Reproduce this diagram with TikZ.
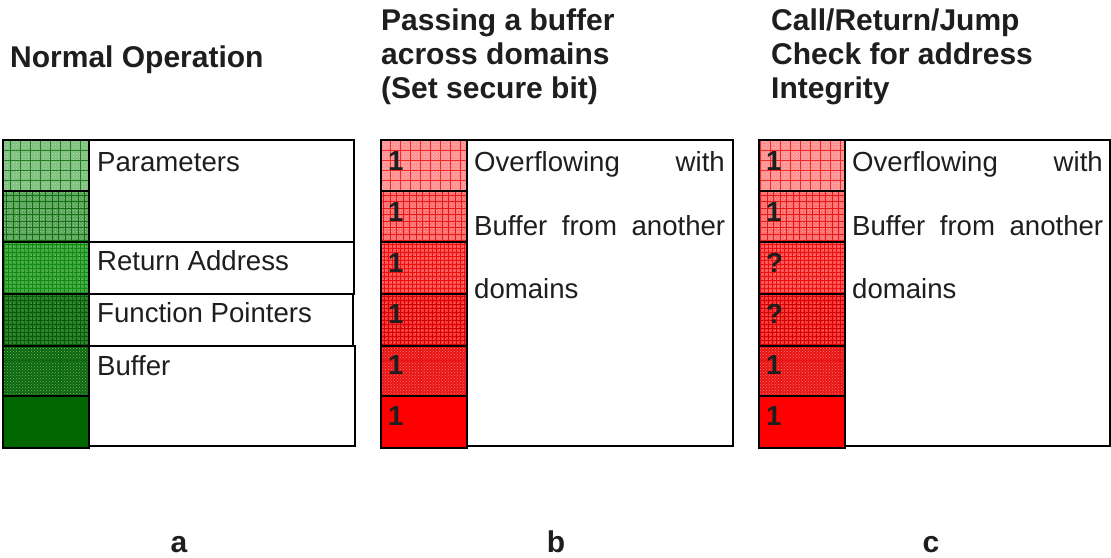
\documentclass[tikz,border=0pt]{standalone}
\usepackage{fontspec}
\setmainfont{Liberation Sans}
\usetikzlibrary{patterns}

\definecolor{ink}{RGB}{30,30,30}
% green stack (normal operation)
\definecolor{gbase1}{RGB}{128,192,128}\definecolor{gdot1}{RGB}{175,218,175}\definecolor{ggrid1}{RGB}{35,125,35}
\definecolor{gbase2}{RGB}{92,166,92}\definecolor{gdot2}{RGB}{150,205,150}\definecolor{ggrid2}{RGB}{20,110,20}
\definecolor{gbase3}{RGB}{60,165,60}\definecolor{gdot3}{RGB}{125,200,125}\definecolor{ggrid3}{RGB}{20,140,20}
\definecolor{gbase4}{RGB}{35,125,35}\definecolor{gdot4}{RGB}{95,165,95}\definecolor{ggrid4}{RGB}{10,90,10}
\definecolor{gbase5}{RGB}{12,102,12}\definecolor{gdot5}{RGB}{110,180,110}\definecolor{ggrid5}{RGB}{12,102,12}
\definecolor{gbase6}{RGB}{0,102,0}\definecolor{gdot6}{RGB}{0,102,0}\definecolor{ggrid6}{RGB}{0,102,0}
% red stack (secure bit set)
\definecolor{rbase1}{RGB}{255,145,145}\definecolor{rdot1}{RGB}{255,190,190}\definecolor{rgrid1}{RGB}{240,40,40}
\definecolor{rbase2}{RGB}{255,108,108}\definecolor{rdot2}{RGB}{255,170,170}\definecolor{rgrid2}{RGB}{230,25,25}
\definecolor{rbase3}{RGB}{255,78,78}\definecolor{rdot3}{RGB}{255,148,148}\definecolor{rgrid3}{RGB}{235,15,15}
\definecolor{rbase4}{RGB}{250,46,46}\definecolor{rdot4}{RGB}{255,128,128}\definecolor{rgrid4}{RGB}{210,0,0}
\definecolor{rbase5}{RGB}{232,20,20}\definecolor{rdot5}{RGB}{255,118,118}\definecolor{rgrid5}{RGB}{232,20,20}
\definecolor{rbase6}{RGB}{255,0,0}\definecolor{rdot6}{RGB}{255,0,0}\definecolor{rgrid6}{RGB}{255,0,0}

% a column of six textured stack slots; #1 = left x, #2 = colour family (g or r)
\newcommand\stackcolumn[2]{%
  \foreach \ya/\yb/\k/\st in {140/191/1/10,191/242/2/6.5,242/294/3/4,294/346/4/4,346/396/5/60,396/448/6/60}{
    \fill[#2base\k] (#1,\ya) rectangle (#1+86,\yb);
    \fill[pattern=crosshatch dots, pattern color=#2dot\k] (#1,\ya) rectangle (#1+86,\yb);
    \begin{scope}
      \clip (#1,\ya) rectangle (#1+86,\yb);
      \draw[#2grid\k, line width=0.7pt, step=\st pt] (#1,\yb) grid (#1+86,\ya);
    \end{scope}
    \draw[line width=1.6pt] (#1,\ya) rectangle (#1+86,\yb);
  }%
}

\begin{document}
\begin{tikzpicture}[x=1pt,y=-1pt,
  lbl/.style={anchor=base west, inner sep=0pt, text=ink, font=\fontsize{27.6}{30}\selectfont},
  ttl/.style={anchor=base west, inner sep=0pt, text=ink, font=\bfseries\fontsize{30}{34.5}\selectfont},
  bit/.style={anchor=base west, inner sep=0pt, text=ink, font=\bfseries\fontsize{27.6}{30}\selectfont},
  frame/.style={draw=black, line width=1.4pt}]
\useasboundingbox (0,0) rectangle (1111,557);
\fill[white] (0,0) rectangle (1111,557);

% titles
\node[ttl] (ta)  at (10,67) {Normal Operation};
\node[ttl] (tb1) at (381,30) {Passing a buffer};
\node[ttl] (tb2) at (381,64) {across domains};
\node[ttl] (tb3) at (381,98) {(Set secure bit)};
\node[ttl] (tc1) at (771,30) {Call/Return/Jump};
\node[ttl] (tc2) at (771,64) {Check for address};
\node[ttl] (tc3) at (771,98) {Integrity};

% panel a: stack frame boxes
\draw[frame] (89,140) rectangle (354,242);
\draw[frame] (89,242) rectangle (354,294);
\draw[frame] (89,294) rectangle (353,346);
\draw[frame] (89,346) rectangle (355,446);
\stackcolumn{3}{g}
\node[lbl] (pa) at (97,171) {Parameters};
\node[lbl] (ra) at (97,270) {Return Address};
\node[lbl] (fa) at (97,322) {Function Pointers};
\node[lbl] (ba) at (97,375) {Buffer};

% panel b
\draw[frame] (467,140) rectangle (733,446);
\stackcolumn{381}{r}
\node[lbl] (b1) at (474,171) {Overflowing};
\node[lbl, anchor=base east] (b2) at (725,171) {with};
\node[lbl] (b3) at (474,235) {\makebox[251pt][s]{Buffer from another}};
\node[lbl] (b4) at (474,298) {domains};
\foreach \y [count=\i] in {170,221,272,323,374,425}
  \node[bit] (bbit\i) at (388,\y) {1};

% panel c
\draw[frame] (845,140) rectangle (1110,446);
\stackcolumn{759}{r}
\node[lbl] (c1) at (852,171) {Overflowing};
\node[lbl, anchor=base east] (c2) at (1103,171) {with};
\node[lbl] (c3) at (852,235) {\makebox[251pt][s]{Buffer from another}};
\node[lbl] (c4) at (852,298) {domains};
\foreach \y/\t [count=\i] in {170/1,221/1,272/?,323/?,374/1,425/1}
  \node[bit] (cbit\i) at (766,\y) {\t};

% panel captions
\node[ttl, anchor=base] (la) at (179,552) {a};
\node[ttl, anchor=base] (lb) at (556,552) {b};
\node[ttl, anchor=base] (lc) at (931,552) {c};
\end{tikzpicture}
\end{document}
